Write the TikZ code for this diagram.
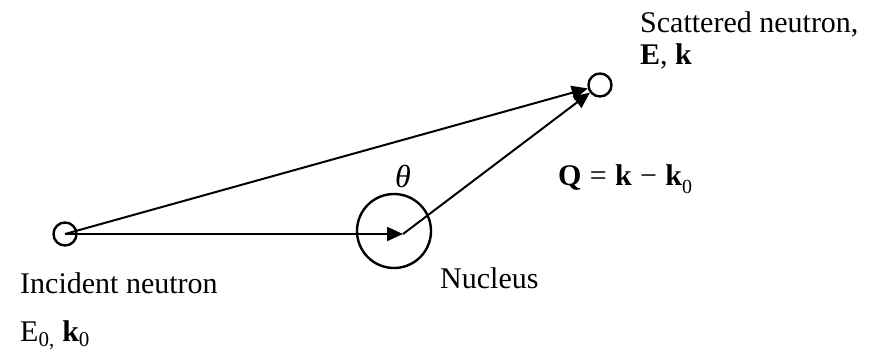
\documentclass[tikz,border=0pt]{standalone}
\usepackage{fontspec}
\setmainfont{Liberation Serif}
\usetikzlibrary{arrows.meta}
\newcommand{\lowsub}[1]{\raisebox{-0.28em}{\fontsize{20}{24}\selectfont #1}}
\tikzset{
  lbl/.style={anchor=base west, inner sep=0pt, font=\fontsize{30}{36}\selectfont},
  neutron/.style={circle, draw, line width=2.4pt, inner sep=0pt, minimum size=23pt},
  nuc/.style={circle, draw, line width=2.4pt, inner sep=0pt, minimum size=74pt},
  vec/.style={line width=2pt, -{Triangle[length=16pt,width=14pt]}}
}
\begin{document}
\begin{tikzpicture}[x=1pt,y=1pt]
\useasboundingbox (0,0) rectangle (877,354);
\node[neutron] (inc) at (65,120) {};
\node[nuc] (nucleus) at (394,123) {};
\node[neutron] (sc) at (600,269) {};
\coordinate (tip) at (403,120);
\draw[vec] (inc.center) -- (tip);
\draw[vec] (tip) -- (sc);
\draw[vec] (inc.center) -- (sc);
\node[lbl] (tinc) at (20,61) {Incident neutron};
\node[lbl] (tinc2) at (20,13) {E\textsubscript{0,} \textbf{k}\textsubscript{0}};
\node[lbl] (tnuc) at (440,66) {Nucleus};
\node[lbl, anchor=center, font=\fontsize{32}{36}\selectfont\itshape] (th) at (403,178) {θ};
\node[lbl] (q) at (558,169) {\textbf{Q}\;=\;\textbf{k}\;−\;\textbf{k}\lowsub{0}};
\node[lbl] (tsc) at (640,321) {Scattered neutron,};
\node[lbl] (tsc2) at (640,289) {\textbf{E}, \textbf{k}};
\end{tikzpicture}
\end{document}
